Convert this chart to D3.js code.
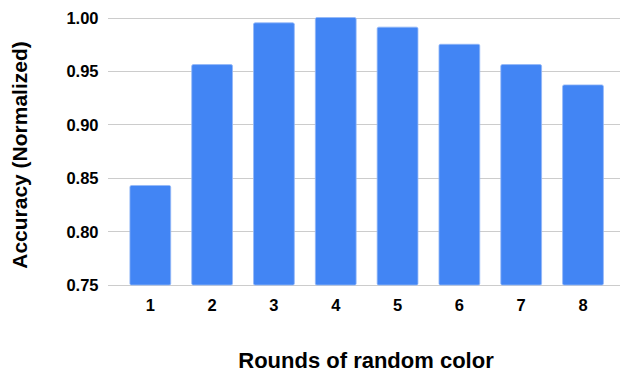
<!DOCTYPE html>
<html>
<head>
<meta charset="utf-8">
<script src="https://cdn.jsdelivr.net/npm/d3@7"></script>
<style>
  html, body { margin: 0; padding: 0; background: #ffffff; }
  svg { display: block; }
  text { font-family: "Liberation Sans", Arial, sans-serif; font-weight: bold; fill: #000; }
</style>
</head>
<body>
<svg id="chart" width="621" height="372"></svg>
<script>
// Normalized accuracy per number of random-colour rounds
const rounds = ["1", "2", "3", "4", "5", "6", "7", "8"];
const accuracy = [0.843, 0.956, 0.995, 1.000, 0.991, 0.975, 0.956, 0.937];
const yTicks = [0.75, 0.80, 0.85, 0.90, 0.95, 1.00];
const xTitle = "Rounds of random color";
const yTitle = "Accuracy (Normalized)";

const svg = d3.select("#chart");

const plot = { left: 108, right: 620, top: 17.5, bottom: 285 };

const x = d3.scaleBand()
  .domain(rounds)
  .range([119.4, 613.9])
  .paddingInner(0.34)
  .paddingOuter(0.17);

const y = d3.scaleLinear()
  .domain([0.75, 1.00])
  .range([plot.bottom, plot.top]);

// horizontal gridlines
svg.append("g")
  .selectAll("line")
  .data(yTicks)
  .join("line")
  .attr("x1", plot.left)
  .attr("x2", plot.right)
  .attr("y1", d => Math.round(y(d)) + 0.5)
  .attr("y2", d => Math.round(y(d)) + 0.5)
  .attr("stroke", "#cccccc")
  .attr("stroke-width", 1);

// y axis tick labels
const yAxis = d3.axisLeft(y)
  .tickValues(yTicks)
  .tickFormat(d3.format(".2f"))
  .tickSize(0)
  .tickPadding(0);
const gy = svg.append("g")
  .attr("transform", `translate(98.5,0)`)
  .call(yAxis);
gy.select(".domain").remove();
gy.selectAll("text")
  .attr("font-size", 16.5)
  .attr("font-family", "Liberation Sans, Arial, sans-serif")
  .attr("font-weight", "bold")
  .attr("fill", "#000")
  .attr("dy", "0.36em");

// bars
svg.append("g")
  .selectAll("rect")
  .data(rounds.map((r, i) => ({ r, v: accuracy[i] })))
  .join("rect")
  .attr("x", d => x(d.r))
  .attr("width", x.bandwidth())
  .attr("y", d => y(d.v))
  .attr("height", d => y(0.75) - y(d.v))
  .attr("rx", 1.5)
  .attr("fill", "#4285f4")
  .attr("stroke", "#93b8f8")
  .attr("stroke-width", 0.8);

// x axis tick labels
const xAxis = d3.axisBottom(x).tickSize(0).tickPadding(0);
const gx = svg.append("g")
  .attr("transform", `translate(0,${plot.bottom})`)
  .call(xAxis);
gx.select(".domain").remove();
gx.selectAll("text")
  .attr("font-size", 16.5)
  .attr("font-family", "Liberation Sans, Arial, sans-serif")
  .attr("font-weight", "bold")
  .attr("fill", "#000")
  .attr("dy", null)
  .attr("y", 26);

// axis titles
svg.append("text")
  .attr("x", (plot.left + plot.right) / 2 + 2)
  .attr("y", 368)
  .attr("text-anchor", "middle")
  .attr("font-size", 22)
  .text(xTitle);

svg.append("text")
  .attr("transform", `translate(27,${155}) rotate(-90)`)
  .attr("text-anchor", "middle")
  .attr("font-size", 21)
  .text(yTitle);
</script>
</body>
</html>
